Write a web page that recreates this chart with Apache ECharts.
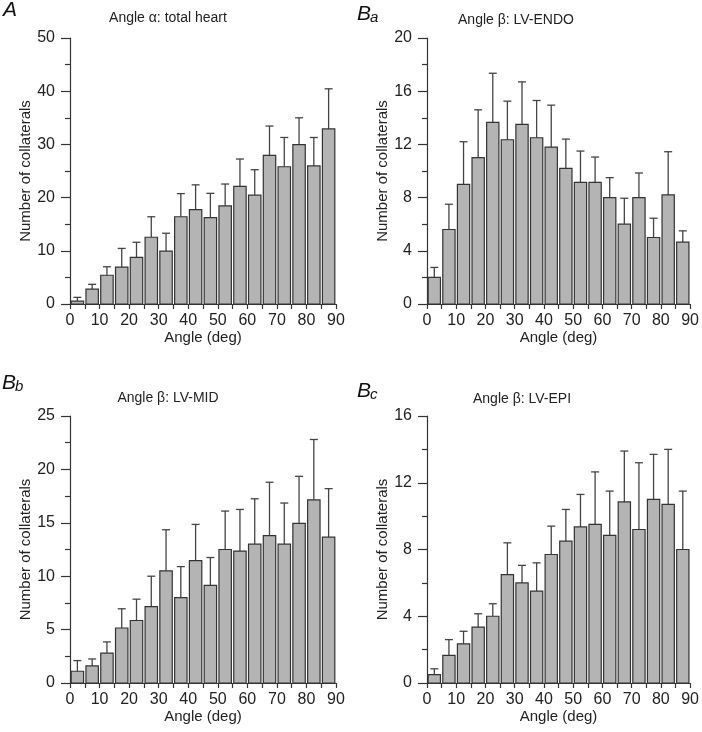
<!DOCTYPE html>
<html>
<head>
<meta charset="utf-8">
<script src="https://cdn.jsdelivr.net/npm/echarts@6/dist/echarts.min.js"></script>
<style>
  html, body { margin: 0; padding: 0; background: #fff; }
  #chart { width: 702px; height: 732px; }
</style>
</head>
<body>
<div id="chart"></div>
<script>
// bins of 5 deg, value is the bin start
const binStarts = [0, 5, 10, 15, 20, 25, 30, 35, 40, 45, 50, 55, 60, 65, 70, 75, 80, 85];

// A: angle alpha, total heart
const meanA  = [0.55, 2.8, 5.4, 6.95, 8.75, 12.55, 9.95, 16.4, 17.75, 16.25, 18.45, 22.1, 20.45, 27.95, 25.8, 29.95, 25.95, 32.9];
const upperA = [1.25, 3.7, 7.0, 10.45, 11.6, 16.4, 13.3, 20.75, 22.4, 20.8, 22.55, 27.25, 25.25, 33.45, 31.3, 35.0, 31.3, 40.45];

// Ba: angle beta, LV-ENDO
const meanBa  = [2.0, 5.6, 9.0, 11.0, 13.65, 12.35, 13.5, 12.5, 11.8, 10.2, 9.15, 9.15, 8.0, 6.0, 8.0, 5.0, 8.2, 4.65];
const upperBa = [2.75, 7.5, 12.2, 14.6, 17.35, 15.25, 16.7, 15.3, 14.95, 12.4, 11.5, 11.05, 9.5, 7.95, 9.85, 6.45, 11.45, 5.5];

// Bb: angle beta, LV-MID
const meanBb  = [1.1, 1.6, 2.8, 5.15, 5.85, 7.15, 10.5, 8.0, 11.45, 9.15, 12.5, 12.35, 13.0, 13.8, 13.0, 14.95, 17.15, 13.65];
const upperBb = [2.1, 2.25, 3.85, 6.95, 7.85, 10.0, 14.35, 10.9, 14.85, 11.75, 16.1, 16.25, 17.25, 18.8, 16.85, 19.35, 22.8, 18.2];

// Bc: angle beta, LV-EPI
const meanBc  = [0.5, 1.65, 2.35, 3.35, 4.0, 6.5, 6.0, 5.5, 7.7, 8.5, 9.35, 9.5, 8.85, 10.85, 9.2, 11.0, 10.7, 8.0];
const upperBc = [0.85, 2.6, 3.1, 4.15, 4.75, 8.4, 7.05, 7.2, 9.4, 10.4, 11.3, 12.65, 11.5, 13.9, 13.2, 13.7, 14.0, 11.5];

const panelTitles = ['Angle α: total heart', 'Angle β: LV-ENDO', 'Angle β: LV-MID', 'Angle β: LV-EPI'];
const yMax = [50, 20, 25, 16];
const yStep = [10, 4, 5, 4];

const FONT = 'Liberation Sans, Arial, Helvetica, sans-serif';
const INK = '#222';

const grids = [
  { left: 70, top: 38, width: 266, height: 266 },
  { left: 427, top: 38, width: 265, height: 266 },
  { left: 70, top: 416, width: 266, height: 267 },
  { left: 427, top: 416, width: 265, height: 267 }
];

const allMeans = [meanA, meanBa, meanBb, meanBc];
const allUpper = [upperA, upperBa, upperBb, upperBc];

function renderBin(params, api) {
  const x0 = api.value(0);
  const m = api.value(1);
  const up = api.value(2);
  const tl = api.coord([x0 + 0.4, m]);
  const br = api.coord([x0 + 4.6, 0]);
  const cTop = api.coord([x0 + 2.5, m]);
  const cUp = api.coord([x0 + 2.5, up]);
  const lineStyle = { stroke: '#444', lineWidth: 1.3 };
  return {
    type: 'group',
    children: [
      {
        type: 'line',
        shape: { x1: cTop[0], y1: cTop[1], x2: cUp[0], y2: cUp[1] },
        style: lineStyle
      },
      {
        type: 'line',
        shape: { x1: cUp[0] - 4, y1: cUp[1], x2: cUp[0] + 4, y2: cUp[1] },
        style: lineStyle
      },
      {
        type: 'rect',
        shape: { x: tl[0], y: tl[1], width: br[0] - tl[0], height: br[1] - tl[1] },
        style: { fill: '#b4b4b4', stroke: '#333', lineWidth: 1.2 }
      }
    ]
  };
}

const xAxes = grids.map((g, i) => ({
  type: 'value',
  gridIndex: i,
  min: 0,
  max: 90,
  interval: 5,
  name: 'Angle (deg)',
  nameLocation: 'middle',
  nameGap: 22,
  nameTextStyle: { fontFamily: FONT, fontSize: 15, color: INK },
  axisLine: { lineStyle: { color: '#333', width: 1.2 } },
  axisTick: { length: 5, lineStyle: { color: '#333', width: 1.2 } },
  axisLabel: {
    margin: 9,
    fontFamily: FONT, fontSize: 16, color: INK,
    formatter: v => (v % 10 === 0 ? String(v) : '')
  },
  splitLine: { show: false }
}));

const yAxes = grids.map((g, i) => ({
  type: 'value',
  gridIndex: i,
  min: 0,
  max: yMax[i],
  interval: yStep[i],
  name: 'Number of collaterals',
  nameLocation: 'middle',
  nameGap: 36,
  nameTextStyle: { fontFamily: FONT, fontSize: 15, color: INK },
  axisLine: { show: true, lineStyle: { color: '#333', width: 1.2 } },
  axisTick: { show: true, length: 9, lineStyle: { color: '#333', width: 1.2 } },
  minorTick: { show: true, splitNumber: 2, length: 5, lineStyle: { color: '#333', width: 1.2 } },
  axisLabel: { margin: 15, fontFamily: FONT, fontSize: 16, color: INK },
  splitLine: { show: false },
  minorSplitLine: { show: false }
}));

const series = allMeans.map((means, i) => ({
  type: 'custom',
  xAxisIndex: i,
  yAxisIndex: i,
  renderItem: renderBin,
  encode: { x: 0, y: 1 },
  data: binStarts.map((b, k) => [b, means[k], allUpper[i][k]]),
  z: 3
}));

// panel titles and letters
const titleSpots = [[168, 18], [516, 20], [168, 398], [522, 399]];
const letterSpots = [[3, 21, 'A', ''], [357, 25, 'B', 'a'], [2, 394, 'B', 'b'], [357, 402, 'B', 'c']];

const texts = [];
panelTitles.forEach((t, i) => {
  texts.push({
    type: 'text', x: titleSpots[i][0], y: titleSpots[i][1],
    style: { text: t, fontFamily: FONT, fontSize: 14, fill: INK, textAlign: 'center', textVerticalAlign: 'middle' }
  });
});
letterSpots.forEach(([x, y, big, small]) => {
  texts.push({
    type: 'text', x: x, y: y,
    style: { text: big, fontFamily: FONT, fontSize: 21, fontStyle: 'italic', fill: '#111', textAlign: 'left', textVerticalAlign: 'bottom' }
  });
  if (small) {
    texts.push({
      type: 'text', x: x + 13, y: y,
      style: { text: small, fontFamily: FONT, fontSize: 15, fontStyle: 'italic', fill: '#111', textAlign: 'left', textVerticalAlign: 'bottom' }
    });
  }
});

const chart = echarts.init(document.getElementById('chart'), null, { renderer: 'canvas' });
chart.setOption({
  animation: false,
  backgroundColor: '#fff',
  grid: grids,
  xAxis: xAxes,
  yAxis: yAxes,
  series: series,
  graphic: texts
});
</script>
</body>
</html>
